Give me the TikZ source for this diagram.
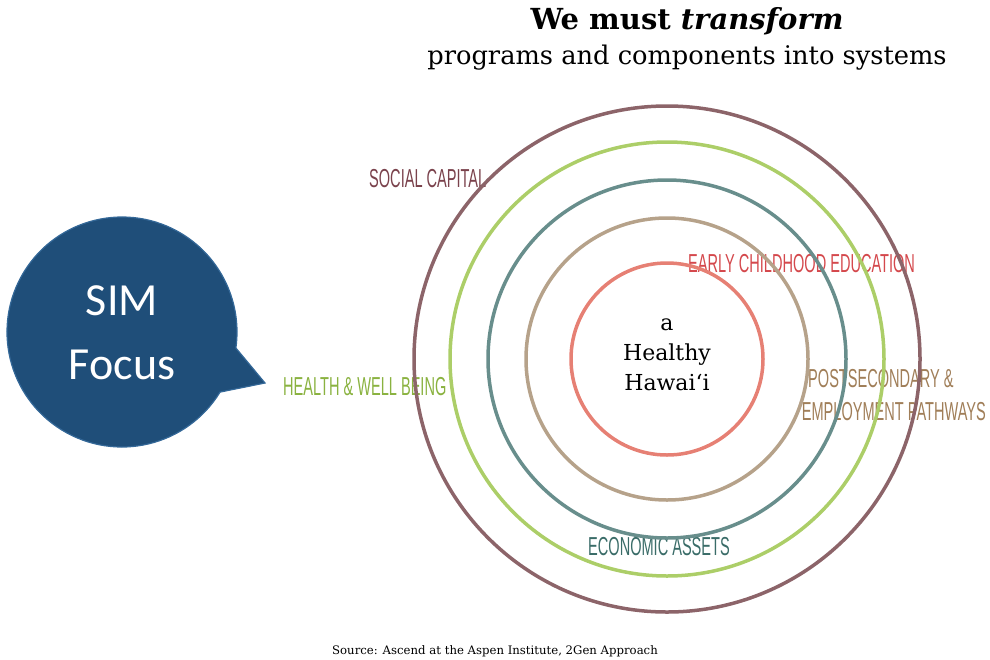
\documentclass[tikz,border=0pt]{standalone}
\usepackage{fontspec}
\setmainfont{DejaVu Serif}
\newfontfamily\capsfont[FakeStretch=0.56]{Liberation Sans}
\newfontfamily\bubblefont{Carlito}
\usetikzlibrary{calc,positioning}

\definecolor{ringsocial}{RGB}{140,100,105}
\definecolor{ringhealth}{RGB}{172,206,104}
\definecolor{ringecon}{RGB}{104,142,140}
\definecolor{ringpost}{RGB}{182,162,138}
\definecolor{ringearly}{RGB}{230,128,116}
\definecolor{txtsocial}{RGB}{122,66,76}
\definecolor{txthealth}{RGB}{138,178,64}
\definecolor{txtecon}{RGB}{58,108,104}
\definecolor{txtpost}{RGB}{160,126,88}
\definecolor{txtearly}{RGB}{212,72,76}
\definecolor{bubblefill}{RGB}{31,78,121}
\definecolor{bubbleline}{RGB}{52,104,152}

\begin{document}
\begin{tikzpicture}[x=1pt,y=-1pt,
  ring/.style={line width=3.5pt},
  lbl/.style={font=\capsfont\fontsize{26}{26}\selectfont, inner sep=0pt, anchor=base west}]
\useasboundingbox (0,0) rectangle (990,659);

% heading
\node (title) at (687,21) {\fontsize{29}{29}\selectfont\bfseries We must \textit{transform}};
\node (subtitle) at (687,58) {\fontsize{25.7}{26}\selectfont programs and components into systems};

% ring labels
\node[lbl, text=txtsocial] (social) at (369,187) {SOCIAL CAPITAL};
\node[lbl, text=txtearly] (early) at (688,272) {EARLY CHILDHOOD EDUCATION};
\node[lbl, text=txtpost] (post) at (808,387) {POSTSECONDARY \&};
\node[lbl, text=txtpost, anchor=base east] (employ) at (986,420) {EMPLOYMENT PATHWAYS};
\node[lbl, text=txthealth] (health) at (283,395) {HEALTH \& WELL BEING};
\node[lbl, text=txtecon] (econ) at (588,555) {ECONOMIC ASSETS};

% rings
\coordinate (hub) at (667,359);
\foreach \r/\col in {253/ringsocial,217/ringhealth,179/ringecon,141/ringpost,96/ringearly}{
  \draw[ring, \col] (hub) circle (\r);
}
\node[align=center, font=\fontsize{22}{30}\selectfont] (core) at (667,355) {a\\Healthy\\Hawai‘i};

% speech bubble
\coordinate (bc) at (122,332);
\coordinate (tip) at (265,383);
\filldraw[fill=bubblefill, draw=bubbleline, line width=1.2pt]
  ($(bc)+(8:115)$) -- (tip) -- ($(bc)+(31.5:115)$) arc[start angle=31.5, end angle=368, radius=115] -- cycle;
\node[text=white, align=center, font=\bubblefont\fontsize{46}{64}\selectfont] (sim) at (122,333) {SIM\\Focus};

\node (source) at (495,651) {\fontsize{11.7}{12}\selectfont Source: Ascend at the Aspen Institute, 2Gen Approach};
\end{tikzpicture}
\end{document}
